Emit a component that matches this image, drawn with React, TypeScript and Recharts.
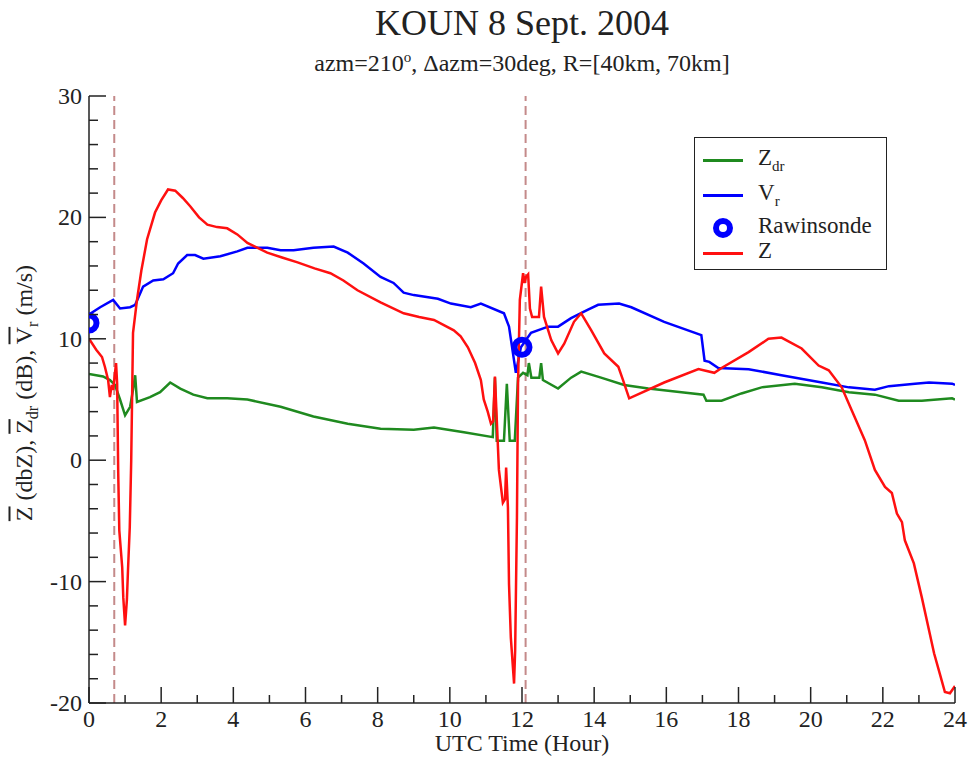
import {
  ComposedChart,
  Line,
  Scatter,
  XAxis,
  YAxis,
  ReferenceLine,
  Legend,
} from "recharts";

// [hour, value]
const zPoints: [number, number][] = [
  [0, 10.0], [0.2, 9.1], [0.36, 8.5], [0.44, 7.7], [0.53, 6.6], [0.58, 5.2],
  [0.63, 6.2], [0.67, 5.8], [0.75, 8.0], [0.78, 6.3], [0.81, -1.1], [0.84, -5.8],
  [0.92, -8.8], [0.95, -11.3], [1.0, -13.6], [1.05, -11.5], [1.08, -9.1],
  [1.13, -5.5], [1.17, 0], [1.22, 10.5], [1.33, 13.2], [1.45, 15.6], [1.61, 18.2],
  [1.83, 20.4], [2.0, 21.4], [2.19, 22.3], [2.39, 22.2], [2.6, 21.6], [2.81, 20.9],
  [3.05, 20.0], [3.28, 19.4], [3.55, 19.2], [3.83, 19.1], [4.11, 18.6], [4.39, 17.9],
  [4.94, 17.1], [5.35, 16.7], [5.78, 16.3], [6.25, 15.8], [6.69, 15.4], [7.05, 14.8],
  [7.44, 14.0], [8.08, 13.0], [8.72, 12.1], [9.15, 11.8], [9.56, 11.55], [10.11, 10.7],
  [10.3, 10.2], [10.5, 9.3], [10.7, 8.0], [10.86, 6.6], [10.94, 5.0], [11.05, 4.0],
  [11.14, 3.0], [11.2, 3.2], [11.25, 6.9], [11.36, -0.8], [11.47, -3.5], [11.53, -3.2],
  [11.56, -0.6], [11.61, -3.9], [11.64, -10.2], [11.69, -14.6], [11.78, -18.4],
  [11.81, -15.7], [11.86, -4.7], [11.89, 6.3], [11.94, 13.2], [12.03, 15.4],
  [12.07, 14.6], [12.11, 15.1], [12.17, 15.3], [12.22, 12.5], [12.28, 11.8],
  [12.47, 11.8], [12.53, 14.3], [12.61, 11.8], [12.81, 9.9], [13.0, 8.8], [13.17, 9.6],
  [13.44, 11.4], [13.64, 12.1], [13.92, 10.7], [14.28, 8.8], [14.67, 7.7], [14.8, 6.6],
  [14.97, 5.1], [15.94, 6.4], [16.89, 7.5], [17.33, 7.2], [17.53, 7.6], [18.28, 8.9],
  [18.83, 10.0], [19.19, 10.1], [19.75, 9.2], [20.22, 7.8], [20.5, 7.4], [20.86, 6.0],
  [21.14, 4.1], [21.5, 1.65], [21.78, -0.8], [22.06, -2.2], [22.25, -2.7], [22.39, -4.4],
  [22.53, -5.1], [22.61, -6.6], [22.86, -8.5], [23.08, -11.3], [23.28, -14.0],
  [23.42, -15.9], [23.58, -17.6], [23.72, -19.1], [23.86, -19.2], [24.0, -18.6],
];

const vrPoints: [number, number][] = [
  [0, 12.0], [0.31, 12.6], [0.67, 13.2], [0.86, 12.5], [1.14, 12.6], [1.28, 12.8],
  [1.5, 14.3], [1.78, 14.8], [2.06, 14.9], [2.33, 15.4], [2.47, 16.2], [2.72, 16.9],
  [2.94, 16.9], [3.17, 16.6], [3.64, 16.8], [4.11, 17.2], [4.39, 17.5], [4.94, 17.5],
  [5.31, 17.3], [5.67, 17.3], [6.22, 17.5], [6.78, 17.6], [7.17, 17.1], [7.61, 16.2],
  [8.08, 15.1], [8.44, 14.6], [8.72, 13.8], [9.0, 13.6], [9.67, 13.3], [10.03, 12.9],
  [10.58, 12.6], [10.86, 12.9], [11.5, 12.1], [11.64, 11.0], [11.75, 8.8], [11.83, 7.2],
  [11.97, 9.3], [12.25, 10.5], [12.72, 11.0], [13.0, 11.0], [13.36, 11.7], [13.83, 12.4],
  [14.11, 12.8], [14.69, 12.9], [15.03, 12.6], [15.94, 11.4], [16.97, 10.3], [17.06, 8.2],
  [17.19, 8.1], [17.44, 7.6], [18.28, 7.5], [19.19, 7.0], [20.31, 6.4], [21.06, 6.0],
  [21.78, 5.8], [22.17, 6.1], [22.89, 6.3], [23.28, 6.4], [23.92, 6.3], [24, 6.2],
];

const zdrPoints: [number, number][] = [
  [0, 7.1], [0.39, 6.9], [0.58, 6.6], [0.72, 6.2], [0.86, 5.0], [1.0, 3.7], [1.14, 4.4],
  [1.22, 5.8], [1.28, 7.0], [1.33, 4.8], [1.69, 5.2], [1.97, 5.6], [2.25, 6.4],
  [2.53, 5.9], [2.89, 5.4], [3.28, 5.1], [3.83, 5.1], [4.39, 5.0], [5.31, 4.4],
  [6.22, 3.6], [7.17, 3.0], [8.08, 2.6], [9.0, 2.5], [9.56, 2.7], [10.39, 2.3],
  [11.19, 1.9], [11.25, 6.8], [11.3, 1.6], [11.5, 1.6], [11.58, 6.3], [11.66, 1.6],
  [11.8, 1.6], [11.89, 6.8], [12.03, 7.2], [12.15, 7.0], [12.19, 8.0], [12.26, 6.8],
  [12.48, 6.8], [12.53, 8.0], [12.58, 6.6], [13.0, 5.9], [13.36, 6.8], [13.64, 7.3],
  [14.19, 6.8], [14.83, 6.2], [15.5, 5.9], [16.42, 5.6], [17.03, 5.4], [17.11, 4.9],
  [17.53, 4.9], [18.08, 5.5], [18.64, 6.0], [19.56, 6.3], [20.31, 6.0], [21.06, 5.6],
  [21.78, 5.4], [22.44, 4.9], [23.08, 4.9], [23.92, 5.1], [24, 5.0],
];

const raobPoints: [number, number][] = [
  [0, 11.3],
  [12, 9.3],
];

const dashedHours = [0.7, 12.1];

const xTicks = Array.from({ length: 25 }, (_, i) => i);
const yTicks = Array.from({ length: 26 }, (_, i) => -20 + i * 2);

const toRows = (pts: [number, number][]) => pts.map(([t, v]) => ({ t, v }));

const SERIF = '"Liberation Serif", "DejaVu Serif", serif';
const INK = "#222";
const GREEN = "#1f8a1f";
const BLUE = "#0000ff";
const RED = "#ff1010";
const DASH = "#c48a8a";

function LeftTick({ x, y, payload }: any) {
  const v = payload.value;
  const major = v % 10 === 0;
  return (
    <g>
      <line x1={x} x2={x + (major ? 17 : 9)} y1={y} y2={y} stroke={INK} strokeWidth={1.5} />
      {major && (
        <text x={x - 7} y={y + 8} textAnchor="end" fontFamily={SERIF} fontSize={24} fill={INK}>
          {v}
        </text>
      )}
    </g>
  );
}

function RightTick({ x, y, payload }: any) {
  const major = payload.value % 10 === 0;
  return <line x1={x} x2={x - (major ? 17 : 9)} y1={y} y2={y} stroke={INK} strokeWidth={1.5} />;
}

function BottomTick({ x, y, payload }: any) {
  const v = payload.value;
  const major = v % 2 === 0;
  return (
    <g>
      <line x1={x} x2={x} y1={y} y2={y - (major ? 16 : 8)} stroke={INK} strokeWidth={1.5} />
      {major && (
        <text x={x} y={y + 24} textAnchor="middle" fontFamily={SERIF} fontSize={24} fill={INK}>
          {v}
        </text>
      )}
    </g>
  );
}

function TopTick({ x, y, payload }: any) {
  const major = payload.value % 2 === 0;
  return <line x1={x} x2={x} y1={y} y2={y + (major ? 16 : 8)} stroke={INK} strokeWidth={1.5} />;
}

function Ring({ cx, cy }: any) {
  return <circle cx={cx} cy={cy} r={7.5} fill="none" stroke={BLUE} strokeWidth={6} />;
}

function LegendBox() {
  const row = (top: number, children: any, mark: any) => (
    <div style={{ position: "absolute", top, left: 0, height: 24, width: "100%" }}>
      <div style={{ position: "absolute", left: 8, top: 0, width: 40, height: 24 }}>{mark}</div>
      <div style={{ position: "absolute", left: 63, top: -3, lineHeight: "26px" }}>{children}</div>
    </div>
  );
  const seg = (c: string) => (
    <div style={{ position: "absolute", left: 0, top: 11, width: 40, height: 3, background: c }} />
  );
  const sub = { fontSize: 15, verticalAlign: "-6px" } as const;
  return (
    <div
      style={{
        position: "relative",
        width: 191,
        height: 131,
        border: `1.5px solid ${INK}`,
        background: "#fff",
        fontFamily: SERIF,
        fontSize: 23,
        color: INK,
      }}
    >
      {row(10, <span>Z<span style={sub}>dr</span></span>, seg(GREEN))}
      {row(45, <span>V<span style={sub}>r</span></span>, seg(BLUE))}
      {row(78, <span>Rawinsonde</span>,
        <svg width={40} height={24}><circle cx={20} cy={12} r={7} fill="none" stroke={BLUE} strokeWidth={6} /></svg>)}
      {row(103, <span>Z</span>, seg(RED))}
    </div>
  );
}

export default function App() {
  return (
    <div
      style={{
        position: "absolute",
        left: 0,
        top: 0,
        width: 969,
        height: 759,
        background: "#fff",
        fontFamily: SERIF,
        color: INK,
      }}
    >
      <div style={{ position: "absolute", left: 0, width: 1044, top: 2, textAlign: "center", fontSize: 36 }}>
        KOUN 8 Sept. 2004
      </div>
      <div style={{ position: "absolute", left: 0, width: 1044, top: 49, textAlign: "center", fontSize: 24 }}>
        azm=210<sup style={{ fontSize: 15 }}>o</sup>, Δazm=30deg, R=[40km, 70km]
      </div>
      <div
        style={{
          position: "absolute",
          left: 26,
          top: 393,
          transform: "translate(-50%, -50%) rotate(-90deg)",
          whiteSpace: "nowrap",
          fontSize: 24,
        }}
      >
        <span style={{ textDecoration: "overline" }}>Z</span> (dbZ),{" "}
        <span style={{ textDecoration: "overline" }}>Z</span>
        <span style={{ fontSize: 16, verticalAlign: "-6px" }}>dr</span> (dB),{" "}
        <span style={{ textDecoration: "overline" }}>V</span>
        <span style={{ fontSize: 16, verticalAlign: "-6px" }}>r</span> (m/s)
      </div>
      <div style={{ position: "absolute", left: 0, width: 1044, top: 730, textAlign: "center", fontSize: 24 }}>
        UTC Time (Hour)
      </div>

      <ComposedChart width={969} height={759} margin={{ top: 96, right: 14, bottom: 0, left: 0 }}>
        <XAxis
          dataKey="t"
          type="number"
          domain={[0, 24]}
          ticks={xTicks}
          interval={0}
          allowDataOverflow
          height={56}
          tickSize={0}
          tickMargin={0}
          tickLine={false}
          axisLine={{ stroke: INK, strokeWidth: 1.5 }}
          tick={<BottomTick />}
        />
        <XAxis
          xAxisId="top"
          orientation="top"
          type="number"
          domain={[0, 24]}
          ticks={xTicks}
          interval={0}
          allowDataOverflow
          height={0}
          tickSize={0}
          tickMargin={0}
          tickLine={false}
          axisLine={{ stroke: INK, strokeWidth: 1.5 }}
          tick={<TopTick />}
        />
        <YAxis
          type="number"
          domain={[-20, 30]}
          ticks={yTicks}
          interval={0}
          allowDataOverflow
          width={89}
          tickSize={0}
          tickMargin={0}
          tickLine={false}
          axisLine={{ stroke: INK, strokeWidth: 1.5 }}
          tick={<LeftTick />}
        />
        <YAxis
          yAxisId="right"
          orientation="right"
          type="number"
          domain={[-20, 30]}
          ticks={yTicks}
          interval={0}
          allowDataOverflow
          width={0}
          tickSize={0}
          tickMargin={0}
          tickLine={false}
          axisLine={{ stroke: INK, strokeWidth: 1.5 }}
          tick={<RightTick />}
        />
        {dashedHours.map((h) => (
          <ReferenceLine key={h} x={h} stroke={DASH} strokeWidth={2} strokeDasharray="9 5" />
        ))}
        <Line
          data={toRows(zdrPoints)}
          dataKey="v"
          name="Zdr"
          type="linear"
          stroke={GREEN}
          strokeWidth={2.5}
          dot={false}
          isAnimationActive={false}
        />
        <Line
          data={toRows(vrPoints)}
          dataKey="v"
          name="Vr"
          type="linear"
          stroke={BLUE}
          strokeWidth={2.5}
          dot={false}
          isAnimationActive={false}
        />
        <Line
          data={toRows(zPoints)}
          dataKey="v"
          name="Z"
          type="linear"
          stroke={RED}
          strokeWidth={2.5}
          dot={false}
          isAnimationActive={false}
        />
        <Scatter
          data={toRows(raobPoints)}
          dataKey="v"
          name="Rawinsonde"
          shape={<Ring />}
          isAnimationActive={false}
        />
        <Legend
          layout="vertical"
          align="center"
          verticalAlign="middle"
          content={() => <LegendBox />}
          wrapperStyle={{ top: 137, left: 694, width: 194 }}
        />
      </ComposedChart>
    </div>
  );
}
